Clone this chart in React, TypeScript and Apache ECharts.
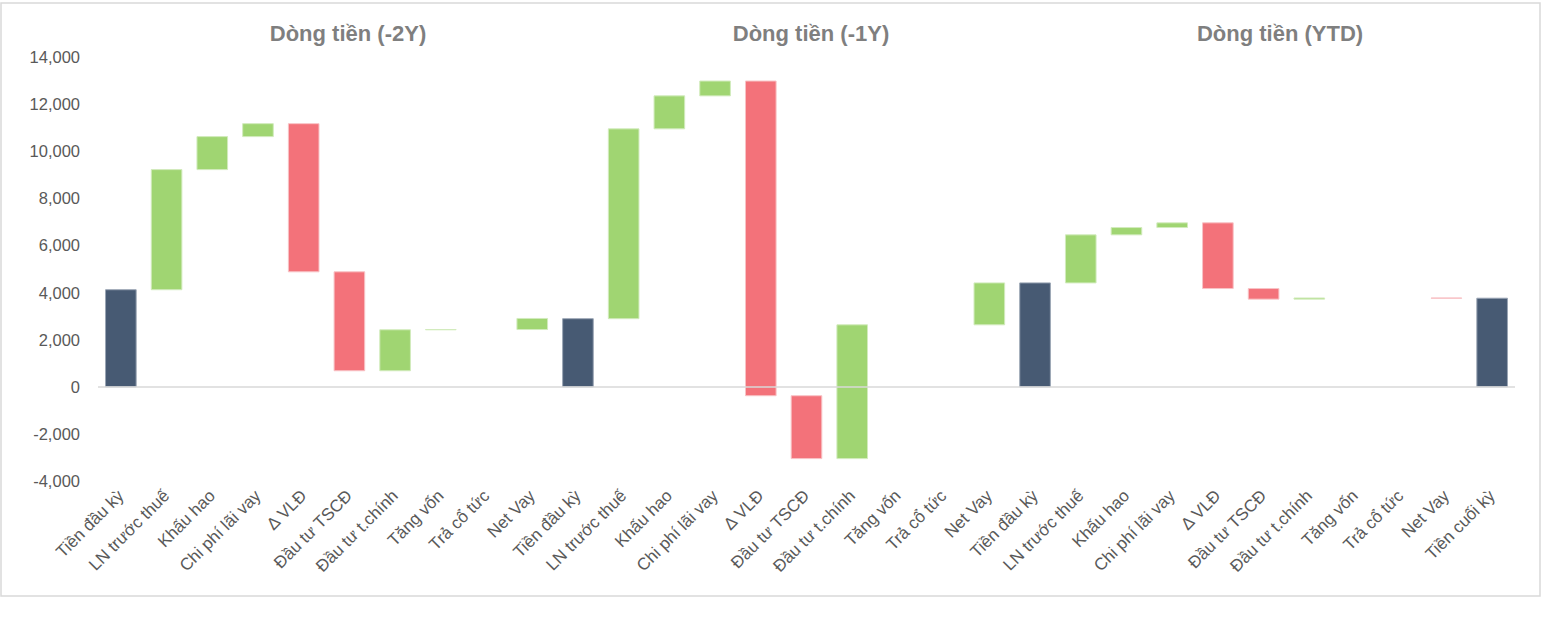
import React, { useEffect, useRef } from "react";
import * as echarts from "echarts";

const stepNames = ["Tiền đầu kỳ", "LN trước thuế", "Khấu hao", "Chi phí lãi vay", "Δ VLĐ", "Đầu tư TSCĐ", "Đầu tư t.chính", "Tăng vốn", "Trả cổ tức", "Net Vay"];
const closingName = "Tiền cuối kỳ";
const panelTitles = ["Dòng tiền (-2Y)", "Dòng tiền (-1Y)", "Dòng tiền (YTD)"];

const openingCash = [4120, 2890, 4410];
const flows2Y = [5100, 1400, 550, -6290, -4200, 1740, 10, 0, 470];
const flows1Y = [8060, 1400, 630, -13360, -2670, 5680, 0, 0, 1780];
const flowsYTD = [2040, 310, 200, -2790, -450, 50, 0, 0, -10];
const closingCash = 3760;

const yTicks = { min: -4000, max: 14000, interval: 2000 };

const COLORS = {
  total: { fill: "#475A73", stroke: "#9aa5b4" },
  up: { fill: "#A0D572", stroke: "#d2ebbd" },
  down: { fill: "#F3727A", stroke: "#f8c3c6" },
};
const typeKeys = ["total", "up", "down"];

export default function App() {
  const ref = useRef<HTMLDivElement>(null);

  useEffect(() => {
    if (!ref.current) return;
    const chart = echarts.init(ref.current, null, { renderer: "svg" });

    const categories: string[] = [];
    const data: number[][] = [];
    const flowsAll = [flows2Y, flows1Y, flowsYTD];
    flowsAll.forEach((flows, p) => {
      let level = openingCash[p];
      categories.push(stepNames[0]);
      data.push([categories.length - 1, 0, level, 0]);
      flows.forEach((f, k) => {
        categories.push(stepNames[k + 1]);
        const idx = categories.length - 1;
        const next = level + f;
        if (f !== 0) {
          data.push([idx, Math.min(level, next), Math.max(level, next), f > 0 ? 1 : 2]);
        }
        level = next;
      });
    });
    categories.push(closingName);
    data.push([categories.length - 1, 0, closingCash, 0]);

    const font = "'Liberation Sans', Arial, sans-serif";

    chart.setOption({
      animation: false,
      backgroundColor: "#ffffff",
      title: panelTitles.map((t, i) => ({
        text: t,
        left: [343, 806, 1275][i],
        top: 17,
        textAlign: "center",
        textStyle: { fontFamily: font, fontSize: 22, fontWeight: "bold", color: "#7f7f7f" },
      })),
      grid: { left: 98, right: 36, top: 57, bottom: 143, containLabel: false },
      xAxis: {
        type: "category",
        data: categories,
        axisLine: { show: false },
        axisTick: { show: false },
        axisLabel: {
          interval: 0,
          rotate: 45,
          margin: 12,
          fontFamily: font,
          fontSize: 17,
          color: "#595959",
        },
        splitLine: { show: false },
      },
      yAxis: {
        type: "value",
        min: yTicks.min,
        max: yTicks.max,
        interval: yTicks.interval,
        axisLine: { show: false },
        axisTick: { show: false },
        splitLine: { show: false },
        axisLabel: {
          fontFamily: font,
          fontSize: 16.5,
          color: "#595959",
          margin: 18,
        },
      },
      graphic: [
        {
          type: "rect",
          shape: { x: 1, y: 3, width: 1539, height: 593 },
          style: { fill: "none", stroke: "#d9d9d9", lineWidth: 1.5 },
          silent: true,
        },
      ],
      series: [
        {
          type: "custom",
          encode: { x: 0, y: [1, 2] },
          data,
          renderItem: (params: any, api: any) => {
            const x = api.value(0);
            const lo = api.value(1);
            const hi = api.value(2);
            const t = typeKeys[api.value(3)] as keyof typeof COLORS;
            const pTop = api.coord([x, hi]);
            const pBot = api.coord([x, lo]);
            const w = api.size([1, 0])[0] * 0.67;
            return {
              type: "rect",
              shape: { x: pTop[0] - w / 2, y: pTop[1], width: w, height: pBot[1] - pTop[1] },
              style: { fill: COLORS[t].fill, stroke: COLORS[t].stroke, lineWidth: 1 },
            };
          },
          markLine: {
            silent: true,
            symbol: "none",
            label: { show: false },
            lineStyle: { color: "#d9d9d9", width: 1.5, type: "solid" },
            data: [{ yAxis: 0 }],
          },
        },
      ],
    });

    return () => chart.dispose();
  }, []);

  return (
    <div
      ref={ref}
      style={{ position: "absolute", left: 0, top: 0, width: 1551, height: 624 }}
    />
  );
}
